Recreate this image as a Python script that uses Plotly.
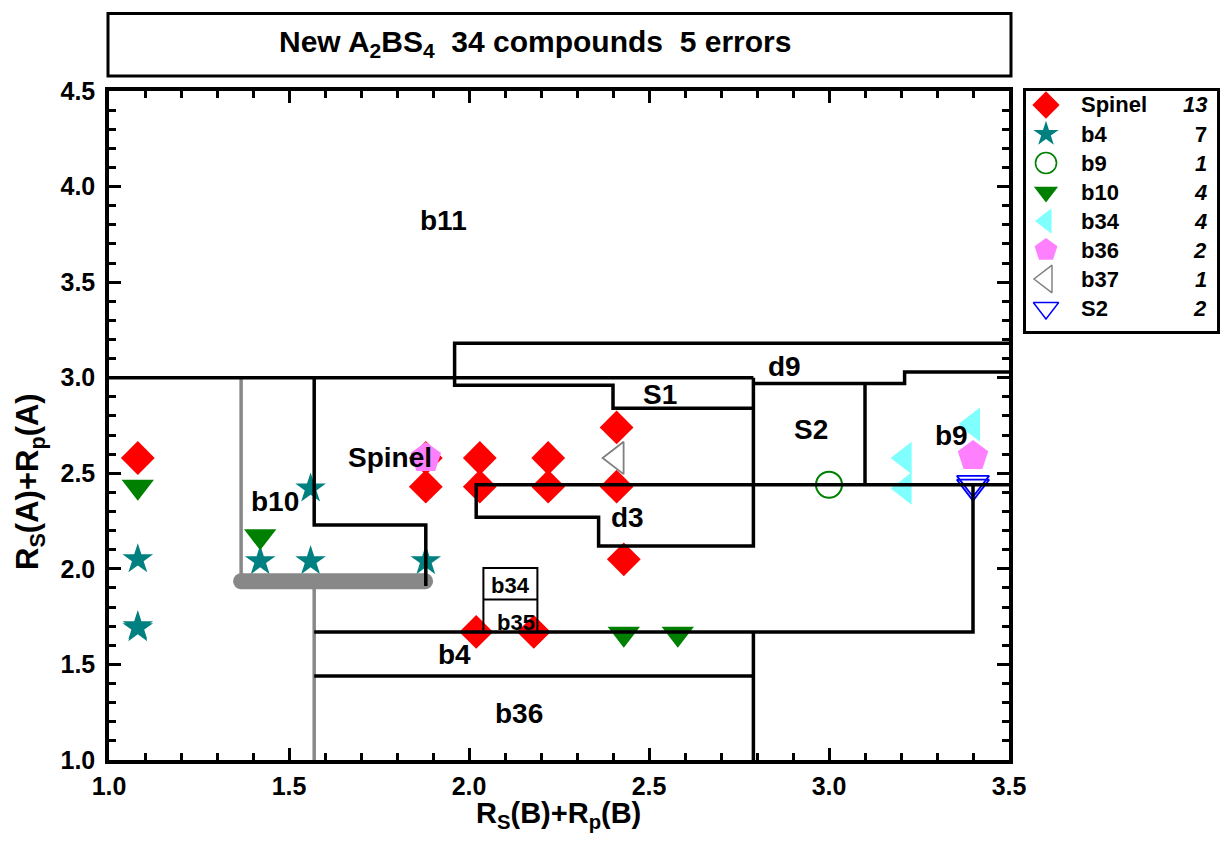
import plotly.graph_objects as go

# ---------------- data ----------------
spinel_x = [1.08, 1.88, 1.88, 2.03, 2.03, 2.22, 2.22, 2.41, 2.41, 2.43, 2.02, 2.18]
spinel_y = [2.58, 2.58, 2.43, 2.58, 2.43, 2.58, 2.43, 2.74, 2.43, 2.05, 1.67, 1.67]
b4_x = [1.08, 1.08, 1.08, 1.56, 1.42, 1.56, 1.88]
b4_y = [2.05, 1.69, 1.70, 2.42, 2.04, 2.04, 2.04]
b9_x = [3.00]
b9_y = [2.44]
b10_x = [1.08, 1.42, 2.43, 2.58]
b10_y = [2.43, 2.17, 1.66, 1.66]
b34_x = [3.21, 3.21, 3.40, 3.40]
b34_y = [2.58, 2.42, 2.75, 2.76]
b36_x = [1.88, 3.40]
b36_y = [2.58, 2.59]
b37_x = [2.41]
b37_y = [2.58]
s2_x = [3.40, 3.40]
s2_y = [2.43, 2.45]

legend_names = ["Spinel", "b4", "b9", "b10", "b34", "b36", "b37", "S2"]
legend_counts = ["13", "7", "1", "4", "4", "2", "1", "2"]

# boundary polylines (x list, y list)
black_paths = [
    ([1.0, 2.79], [3.0, 3.0]),
    ([2.79, 2.79, 2.36, 2.36, 2.02, 2.02, 3.5], [3.0, 2.12, 2.12, 2.27, 2.27, 2.44, 2.44]),
    ([3.5, 1.96, 1.96, 2.40, 2.40, 2.79], [3.18, 3.18, 2.96, 2.96, 2.84, 2.84]),
    ([2.79, 3.21, 3.21, 3.5], [2.97, 2.97, 3.03, 3.03]),
    ([3.10, 3.10], [2.97, 2.44]),
    ([3.40, 3.40, 1.57], [2.44, 1.67, 1.67]),
    ([1.57, 2.79], [1.44, 1.44]),
    ([2.79, 2.79], [1.67, 1.0]),
    ([1.57, 1.57, 1.88, 1.88], [3.0, 2.23, 2.23, 1.91]),
]
thin_box_paths = [
    ([2.04, 2.04, 2.19, 2.19], [1.67, 2.005, 2.005, 1.67]),
    ([2.04, 2.19], [1.84, 1.84]),
]
gray_paths = [
    ([1.367, 1.367], [3.0, 1.935]),
    ([1.57, 1.57], [1.935, 1.0]),
]
gray_bar = ([1.367, 1.878], [1.935, 1.935])

region_labels = [
    ("b11", 1.93, 3.82, 28), ("Spinel", 1.78, 2.58, 28), ("b10", 1.46, 2.355, 28),
    ("S1", 2.53, 2.91, 28), ("d3", 2.44, 2.27, 28), ("d9", 2.875, 3.06, 28),
    ("S2", 2.95, 2.73, 28), ("b9", 3.34, 2.70, 28), ("b34", 2.115, 1.915, 22),
    ("b35", 2.13, 1.72, 22), ("b4", 1.96, 1.55, 28), ("b36", 2.14, 1.245, 28),
]

# ---------------- styles ----------------
FONT = "Liberation Sans, Arial, sans-serif"
styles = {
    "Spinel": dict(symbol="diamond", color="#FF0000", size=26, lsize=21),
    "b4": dict(symbol="star", color="#008080", size=23, lsize=19),
    "b9": dict(symbol="circle-open", color="#008000", size=26, lsize=21, lw=2),
    "b10": dict(symbol="triangle-down", color="#008000", size=28, lsize=21),
    "b34": dict(symbol="triangle-left", color="#80FFFF", size=28, lsize=22),
    "b36": dict(symbol="pentagon", color="#FF80FF", size=32, lsize=24),
    "b37": dict(symbol="triangle-left-open", color="#808080", size=28, lsize=24, lw=1.8),
    "S2": dict(symbol="triangle-down-open", color="#0000FF", size=28, lsize=22, lw=1.8),
}
series = {
    "Spinel": (spinel_x, spinel_y), "b4": (b4_x, b4_y), "b9": (b9_x, b9_y),
    "b10": (b10_x, b10_y), "b34": (b34_x, b34_y), "b36": (b36_x, b36_y),
    "b37": (b37_x, b37_y), "S2": (s2_x, s2_y),
}

fig = go.Figure()

for name in legend_names:
    st = styles[name]
    xs, ys = series[name]
    fig.add_trace(go.Scatter(
        x=xs, y=ys, mode="markers", name=name,
        marker=dict(symbol=st["symbol"], size=st["size"], color=st["color"],
                    line=dict(width=st.get("lw", 0), color=st["color"])),
        xaxis="x", yaxis="y", hoverinfo="skip"))


def join(paths):
    X, Y = [], []
    for xs, ys in paths:
        X += list(xs) + [None]
        Y += list(ys) + [None]
    return X, Y


gx, gy = join(gray_paths)
fig.add_trace(go.Scatter(x=gx, y=gy, mode="lines", line=dict(color="#888888", width=3.5),
                         hoverinfo="skip"))
fig.add_trace(go.Scatter(x=gray_bar[0], y=gray_bar[1], mode="lines+markers",
                         line=dict(color="#888888", width=16),
                         marker=dict(symbol="circle", size=16, color="#888888"),
                         hoverinfo="skip"))
tx, ty = join(thin_box_paths)
fig.add_trace(go.Scatter(x=tx, y=ty, mode="lines", line=dict(color="black", width=2),
                         hoverinfo="skip"))
bx, by = join(black_paths)
fig.add_trace(go.Scatter(x=bx, y=by, mode="lines", line=dict(color="black", width=3.5),
                         hoverinfo="skip"))

# ---------------- legend (own axes) ----------------
row_y = [14 + 29 * i for i in range(len(legend_names))]
for i, name in enumerate(legend_names):
    st = styles[name]
    fig.add_trace(go.Scatter(
        x=[20], y=[row_y[i]], mode="markers", xaxis="x2", yaxis="y2",
        marker=dict(symbol=st["symbol"], size=st["lsize"], color=st["color"],
                    line=dict(width=st.get("lw", 0) * 0.8, color=st["color"])),
        hoverinfo="skip"))
    fig.add_annotation(x=53, y=row_y[i], xref="x2", yref="y2", text="<b>%s</b>" % name,
                       showarrow=False, xanchor="left", yanchor="middle",
                       font=dict(family=FONT, size=22, color="black"))
    cnt = "<b>%s</b>" % legend_counts[i] if legend_counts[i] == "7" else "<b><i>%s</i></b>" % legend_counts[i]
    fig.add_annotation(x=183, y=row_y[i], xref="x2", yref="y2", text=cnt,
                       showarrow=False, xanchor="right", yanchor="middle",
                       font=dict(family=FONT, size=22, color="black"))

for txt, x, y, sz in region_labels:
    fig.add_annotation(x=x, y=y, xref="x", yref="y", text="<b>%s</b>" % txt, showarrow=False,
                       xanchor="center", yanchor="middle",
                       font=dict(family=FONT, size=sz, color="black"))

# page geometry
W, H = 1221, 847
ML, MR, MT, MB = 109, 4, 12, 87
PW, PH = W - ML - MR, H - MT - MB


def px(xp):
    return (xp - ML) / PW


def py(yp):
    return (H - MB - yp) / PH


# title box
fig.add_shape(type="rect", xref="paper", yref="paper", x0=px(108), x1=px(1011),
              y0=py(76), y1=py(13.5), line=dict(color="black", width=3), fillcolor="white",
              layer="below")
fig.add_annotation(xref="paper", yref="paper", x=px(535), y=py(44),
                   text="<b>New A<sub>2</sub>BS<sub>4</sub>\u00a0\u00a034 compounds\u00a0\u00a05 errors</b>",
                   showarrow=False, xanchor="center", yanchor="middle",
                   font=dict(family=FONT, size=30, color="black"))

# axis titles
fig.add_annotation(xref="paper", yref="paper", x=px(558), y=py(815),
                   text="<b>R<sub>S</sub>(B)+R<sub>p</sub>(B)</b>", showarrow=False,
                   xanchor="center", yanchor="middle",
                   font=dict(family=FONT, size=29, color="black"))
fig.add_annotation(xref="paper", yref="paper", x=px(30), y=py(482),
                   text="<b>R<sub>S</sub>(A)+R<sub>p</sub>(A)</b>", showarrow=False,
                   xanchor="center", yanchor="middle", textangle=-90,
                   font=dict(family=FONT, size=31, color="black"))

tickfont = dict(family=FONT, size=25, color="black", weight="bold")
axis_common = dict(showline=True, linewidth=3.5, linecolor="black", mirror="allticks",
                   ticks="inside", ticklen=12, tickwidth=3, tickcolor="black",
                   showgrid=False, zeroline=False, tickfont=tickfont, automargin=False,
                   minor=dict(ticks="inside", ticklen=7, tickwidth=3, tickcolor="black",
                              showgrid=False))

fig.update_layout(
    width=W, height=H, margin=dict(l=ML, r=MR, t=MT, b=MB, autoexpand=False),
    paper_bgcolor="white", plot_bgcolor="white", showlegend=False,
    xaxis=dict(domain=[0, px(1009)], range=[1.0, 3.5], tick0=1.0, dtick=0.5,
               tickformat=".1f", ticklabelstandoff=1, anchor="y", **axis_common),
    yaxis=dict(domain=[0, py(91)], range=[1.0, 4.5], tick0=1.0, dtick=0.5,
               tickformat=".1f", ticklabelstandoff=5, anchor="x", **axis_common),
    xaxis2=dict(domain=[px(1026), px(1217)], range=[0, 191], anchor="y2",
                showline=True, linewidth=2.5, linecolor="black", mirror=True,
                showticklabels=False, ticks="", showgrid=False, zeroline=False),
    yaxis2=dict(domain=[py(331), py(91)], range=[240, 0], anchor="x2",
                showline=True, linewidth=2.5, linecolor="black", mirror=True,
                showticklabels=False, ticks="", showgrid=False, zeroline=False),
)

fig.write_html("out.html", config={"displayModeBar": False},
               post_script="document.body.style.margin='0';")
